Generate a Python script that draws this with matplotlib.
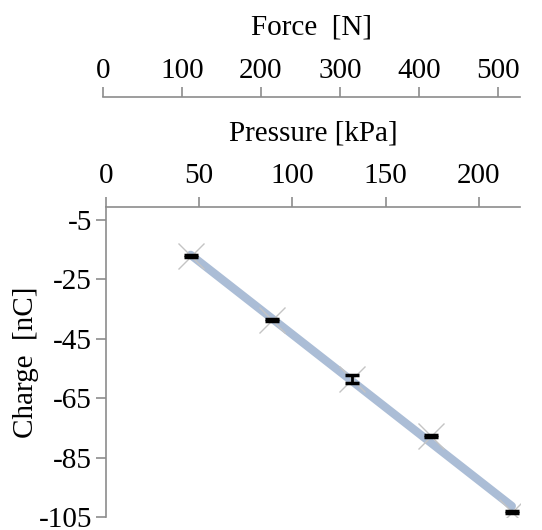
import numpy as np
import matplotlib as mpl
from matplotlib import pyplot as plt

mpl.rcParams['font.family'] = 'Liberation Serif'
mpl.rcParams['axes.unicode_minus'] = False

# data
pressure = [45.4, 88.8, 131.8, 174.5, 217.6]
charge = [-17.2, -38.8, -58.6, -77.7, -103.3]
charge_err = [0.3, 0.3, 1.4, 0.3, 0.3]

pressure_ticks = [0, 50, 100, 150, 200]
charge_ticks = [-5, -25, -45, -65, -85, -105]
force_ticks = [0, 100, 200, 300, 400, 500]

spine_col = '#8c8c8c'
fs = 21

fig = plt.figure(figsize=(5.42, 5.30), dpi=100)
ax = fig.add_axes([106/542, 1 - 517/530, 414/542, 310/530])

# trendline through the points
k, b = np.polyfit(pressure, charge, 1)
xs = np.array([pressure[0], pressure[-1]])
ax.plot(xs, k*xs + b, color='#abbdd6', lw=6, solid_capstyle='round', zorder=1)

ax.plot(pressure, charge, ls='none', marker='x', ms=19, mew=1.0,
        color='#c4c4c4', zorder=2)
ax.errorbar(pressure, charge, yerr=charge_err, fmt='none', ecolor='black',
            elinewidth=2, capsize=5, capthick=2.5, zorder=3)

ax.set_xlim(0, 222)
ax.set_ylim(-105, -0.7)
ax.set_xticks(pressure_ticks)
ax.set_yticks(charge_ticks)
ax.xaxis.tick_top()
ax.xaxis.set_label_position('top')
ax.spines['right'].set_visible(False)
ax.spines['bottom'].set_visible(False)
for s in ['top', 'left']:
    ax.spines[s].set_color(spine_col)
    ax.spines[s].set_linewidth(1.2)
ax.tick_params(axis='both', colors=spine_col, labelcolor='black',
               labelsize=fs, length=7, width=1.2, direction='out')
ax.tick_params(axis='x', pad=6)
ax.tick_params(axis='y', pad=3)
ax.set_xlabel('Pressure [kPa]', fontsize=fs, labelpad=16)
ax.set_ylabel('Charge  [nC]', fontsize=fs, labelpad=0)

# force axis drawn as a separate line above
ax2 = fig.add_axes([103/542, 1 - 97/530, 417/542, 0.0001])
ax2.set_xlim(0, 528)
ax2.set_xticks(force_ticks)
ax2.set_yticks([])
ax2.xaxis.tick_top()
ax2.xaxis.set_label_position('top')
for s in ['right', 'bottom', 'left']:
    ax2.spines[s].set_visible(False)
ax2.spines['top'].set_color(spine_col)
ax2.spines['top'].set_linewidth(1.2)
ax2.tick_params(axis='x', colors=spine_col, labelcolor='black',
                labelsize=fs, length=7, width=1.2, direction='out', pad=2)
ax2.set_xlabel('Force  [N]', fontsize=fs, labelpad=17)

fig.savefig('out.png', dpi=100)
